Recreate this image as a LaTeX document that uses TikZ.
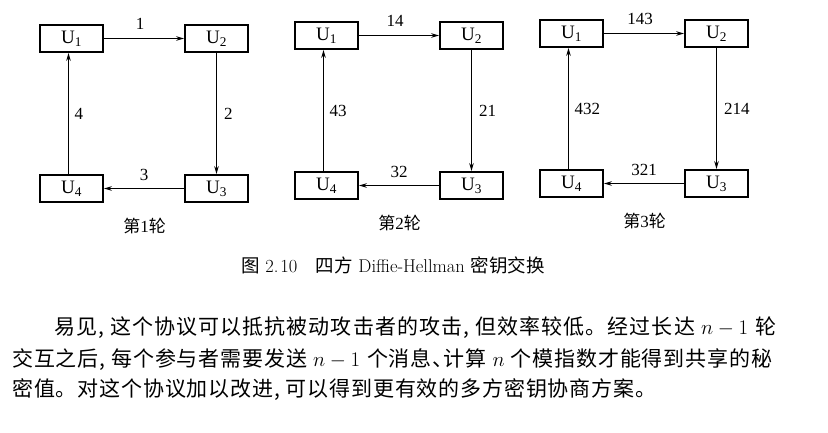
\documentclass[tikz,border=0pt]{standalone}
\usepackage{fontspec}
\usetikzlibrary{arrows.meta}
\newfontfamily\cjk{Noto Sans CJK SC}
\newfontfamily\tnr{Liberation Serif}

% inline pieces, each a single token so that \zhspread can step over them
\newcommand\zhcomma{,\kern5pt}
\newcommand\zhdun{\makebox[0.5em][l]{、}}
\newcommand\nmone{\kern5pt$n-1$\kern6pt}
\newcommand\nvar{\kern5pt$n$\kern5pt}
% put stretchable glue between successive tokens, for justified lines
\def\zhend{\zhend}
\def\zhspread#1{#1\zhspreadnext}
\def\zhspreadnext#1{\ifx\zhend#1\else\hskip0pt plus 1fil#1\expandafter\zhspreadnext\fi}

\tikzset{
  ubox/.style={draw, line width=1.8pt, minimum width=63pt, minimum height=27pt,
    inner sep=0pt, font=\tnr\fontsize{19}{19}\selectfont},
  msg/.style={line width=1.1pt, -{Stealth[length=8pt,width=4.5pt]}},
  lbl/.style={font=\tnr\fontsize{17}{17}\selectfont, inner sep=0pt},
  roundcap/.style={font=\fontsize{17}{17}\selectfont, inner sep=0pt},
  bodytext/.style={anchor=west, inner sep=0pt, font=\cjk\fontsize{21}{21}\selectfont},
}

% one round of the four-party exchange
% #1,#2 shift; #3 name prefix; #4..#7 message labels; #8 round number
\newcommand\keyround[8]{%
  \begin{scope}[shift={(#1,#2)}]
    \node[ubox] (#3u1) at (0,0) {U\textsubscript{1}};
    \node[ubox] (#3u2) at (145,0) {U\textsubscript{2}};
    \node[ubox] (#3u3) at (145,150) {U\textsubscript{3}};
    \node[ubox] (#3u4) at (0,150) {U\textsubscript{4}};
    \draw[msg] (#3u1) -- node[lbl, above=8pt, xshift=-4pt] {#4} (#3u2);
    \draw[msg] (#3u2) -- node[lbl, right=7pt] {#5} (#3u3);
    \draw[msg] (#3u3) -- node[lbl, above=7.5pt] {#6} (#3u4);
    \draw[msg] ([xshift=-3pt]#3u4.north) -- node[lbl, right=5.5pt] {#7} ([xshift=-3pt]#3u1.south);
    \node[roundcap] (#3cap) at (73,187.5) {{\cjk 第}{\tnr #8}{\cjk 轮}};
  \end{scope}}

\begin{document}
\begin{tikzpicture}[x=1pt,y=-1pt]
  \fill[white] (0,0) rectangle (828,432);
  \useasboundingbox (0,0) rectangle (828,432);

  \keyround{71.5}{38.5}{a}{1}{2}{3}{4}{1}
  \keyround{326.5}{35.5}{b}{14}{21}{32}{43}{2}
  \keyround{571.5}{33.5}{c}{143}{214}{321}{432}{3}

  \node[anchor=west, inner sep=0pt, font=\fontsize{18.5}{18.5}\selectfont] (figcap) at (241,265)
    {{\cjk 图}\ 2.\kern2pt10\quad{\cjk 四方} Diffie-Hellman {\cjk 密钥交换}};

  \node[bodytext] (line1) at (54,328)
    {\makebox[722pt][s]{\zhspread 易见\zhcomma 这个协议可以抵抗被动攻击者的攻击\zhcomma 但效率较低。经过长达\nmone 轮\zhend}};
  \node[bodytext] (line2) at (12,360)
    {\makebox[760pt][s]{\zhspread 交互之后\zhcomma 每个参与者需要发送\nmone 个消息\zhdun 计算\nvar 个模指数才能得到共享的秘\zhend}};
  \node[bodytext] (line3) at (12,390)
    {\makebox[644pt][s]{\zhspread 密值。对这个协议加以改进\zhcomma 可以得到更有效的多方密钥协商方案。\zhend}};
\end{tikzpicture}
\end{document}
